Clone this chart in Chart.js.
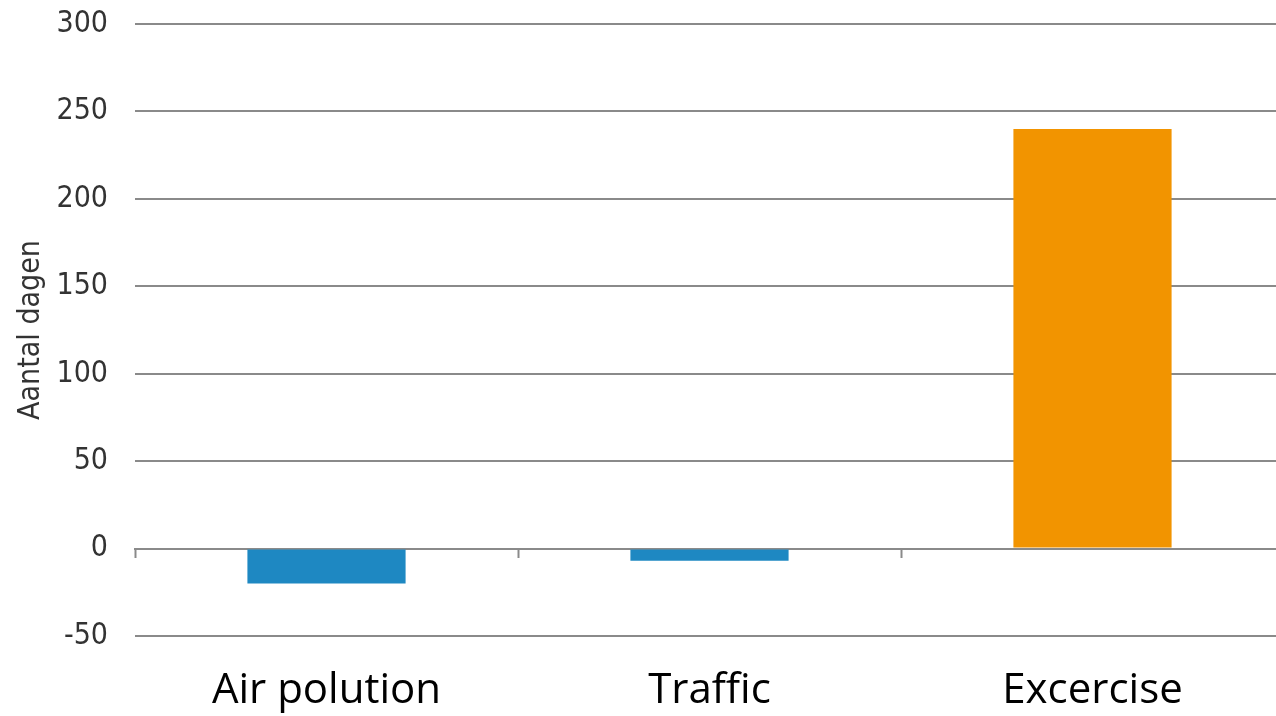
<!DOCTYPE html>
<html>
<head>
<meta charset="utf-8">
<script src="https://cdn.jsdelivr.net/npm/chart.js@4"></script>
<style>
  html, body { margin: 0; padding: 0; background: #fff; overflow: hidden; }
  #wrap { width: 1284px; height: 716px; }
</style>
</head>
<body>
<div id="wrap"><canvas id="grafico"></canvas></div>
<script>
const categorieen = ['Air polution', 'Traffic', 'Excercise'];
const aantalDagen = [-20, -7, 240];
const kleuren = ['#1e88c2', '#1e88c2', '#f29400'];
const yTicks = [-50, 0, 50, 100, 150, 200, 250, 300];

const smal = 'DejaVu Sans Condensed, Liberation Sans Narrow, Liberation Sans';

const ctx = document.getElementById('grafico');
new Chart(ctx, {
    type: 'bar',
    data: {
        labels: categorieen,
        datasets: [{
            data: aantalDagen,
            backgroundColor: kleuren,
            barPercentage: 0.413,
            categoryPercentage: 1
        }]
    },
    options: {
        responsive: true,
        maintainAspectRatio: false,
        animation: false,
        layout: { padding: { top: 24, right: 0, bottom: 0, left: 16 } },
        plugins: {
            legend: { display: false },
            tooltip: { enabled: false }
        },
        scales: {
            x: {
                afterFit: (axis) => {
                    axis.height = 80;
                },
                grid: { display: false, drawTicks: false },
                border: { display: false },
                ticks: {
                    color: '#000',
                    font: { family: 'Open Sans', size: 42, lineHeight: 1 },
                    padding: 34
                }
            },
            x0: {
                type: 'category',
                labels: categorieen,
                position: { y: 0 },
                offset: true,
                grid: {
                    offset: true,
                    drawOnChartArea: false,
                    drawTicks: true,
                    tickLength: 8,
                    tickWidth: 2,
                    color: '#8a8a8a'
                },
                border: { display: true, color: '#8a8a8a', width: 2 },
                ticks: { display: false }
            },
            y: {
                min: -50,
                max: 300,
                afterBuildTicks: (axis) => {
                    axis.ticks = yTicks.map(v => ({ value: v }));
                },
                afterFit: (axis) => {
                    axis.width = 119;
                    axis.paddingTop = 0;
                    axis.paddingBottom = 0;
                },
                grid: {
                    color: '#8a8a8a',
                    lineWidth: 2,
                    drawTicks: false
                },
                border: { display: false },
                ticks: {
                    color: '#333',
                    font: { family: smal, size: 30, lineHeight: 1 },
                    padding: 27
                },
                title: {
                    display: true,
                    text: 'Aantal dagen',
                    color: '#333',
                    font: { family: smal, size: 30, lineHeight: 1 },
                    padding: { top: 0, bottom: 14 }
                }
            }
        }
    }
});
</script>
</body>
</html>
